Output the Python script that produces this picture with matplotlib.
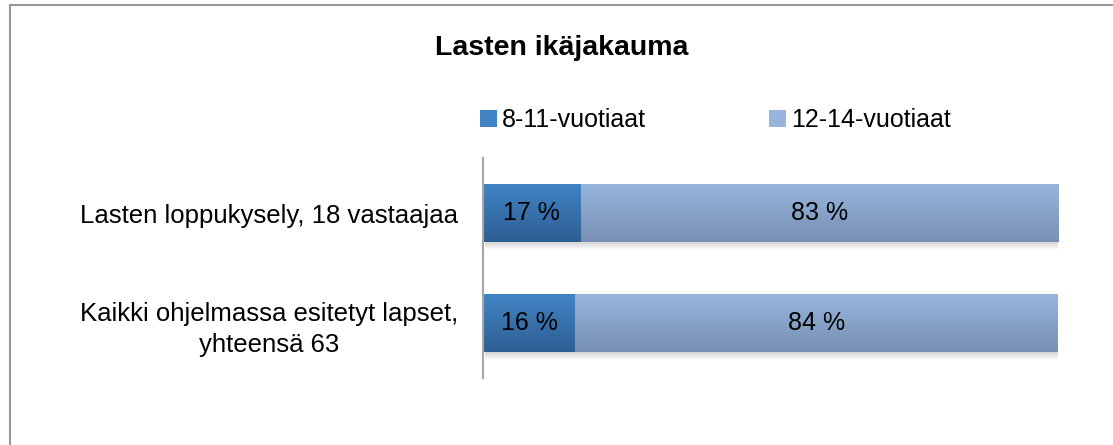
import numpy as np
import matplotlib.pyplot as plt
from matplotlib.colors import LinearSegmentedColormap
from matplotlib.patches import Rectangle

plt.rcParams['font.family'] = ['Liberation Sans', 'DejaVu Sans']

categories = ['Lasten loppukysely, 18 vastaajaa',
              'Kaikki ohjelmassa esitetyt lapset,\nyhteensä 63']
series = ['8-11-vuotiaat', '12-14-vuotiaat']
young = [17, 16]
old = [83, 84]

# top / bottom colours of the gradient for each series
grad_cols = [('#4184C4', '#2D5E93'), ('#97B5DC', '#7890B3')]

fig = plt.figure(figsize=(11.13, 4.45), dpi=100)
ax = fig.add_axes([483 / 1113, 1 - 378 / 445, 575 / 1113, 220 / 445])

ypos = np.arange(len(categories))
h = 0.52
shadow = LinearSegmentedColormap.from_list('sh', ['#cfcfcf', '#ffffff'])
lefts = np.zeros(len(categories))
for vals, (ctop, cbot), name in zip([young, old], grad_cols, series):
    vals = np.array(vals)
    cmap = LinearSegmentedColormap.from_list(name, [ctop, cbot])
    bars = ax.barh(ypos, vals / 100, h, left=lefts, color=ctop, label=name,
                   linewidth=0)
    for b, v, l in zip(bars, vals, lefts):
        b.set_facecolor('none')
        x0, y0 = b.get_x(), b.get_y()
        w, hh = b.get_width(), b.get_height()
        # soft shadow under the bar
        ax.imshow(np.linspace(0, 1, 32).reshape(-1, 1), cmap=shadow,
                  aspect='auto', zorder=1,
                  extent=(x0 + 0.004, x0 + w + 0.004, y0 + hh + 0.08, y0 + hh))
        im = ax.imshow(np.linspace(0, 1, 64).reshape(-1, 1), cmap=cmap,
                       aspect='auto', extent=(x0, x0 + w, y0 + hh, y0),
                       zorder=2)
        im.set_clip_path(b)
        ax.text(l + v / 200, y0 + hh / 2, f'{v} %', ha='center', va='center',
                fontsize=18, color='black', zorder=3)
    lefts = lefts + vals / 100

ax.set_xlim(0, 1)
ax.set_ylim(len(categories) - 0.5, -0.5)
ax.set_xticks([])
ax.set_yticks(ypos)
ax.set_yticklabels(categories, fontsize=18.5, multialignment='center',
                   linespacing=1.4)
ax.tick_params(axis='y', length=0, pad=18)
for s in ['top', 'right', 'bottom']:
    ax.spines[s].set_visible(False)
ax.spines['left'].set_color('#a6a6a6')
ax.spines['left'].set_linewidth(1.5)

fig.text(562 / 1113, 1 - 48 / 445, 'Lasten ikäjakauma', ha='center',
         va='center', fontsize=20.5, fontweight='bold')

handles = [Rectangle((0, 0), 1, 1, facecolor=c[0], edgecolor='none')
           for c in grad_cols]
fig.legend(handles, series, loc='center left',
           bbox_to_anchor=(467 / 1113, 1 - 120 / 445), ncol=2, frameon=False,
           fontsize=18, handlelength=0.7, handleheight=0.7, borderpad=0,
           handletextpad=0.2, columnspacing=4.9)

# outer chart frame
fig.add_artist(Rectangle((9.5 / 1113, -0.05), 1.1, 1 - 4.5 / 445 + 0.05,
                         transform=fig.transFigure, facecolor='none',
                         edgecolor='#999999', linewidth=1.5))

fig.savefig('out.png', dpi=100)
